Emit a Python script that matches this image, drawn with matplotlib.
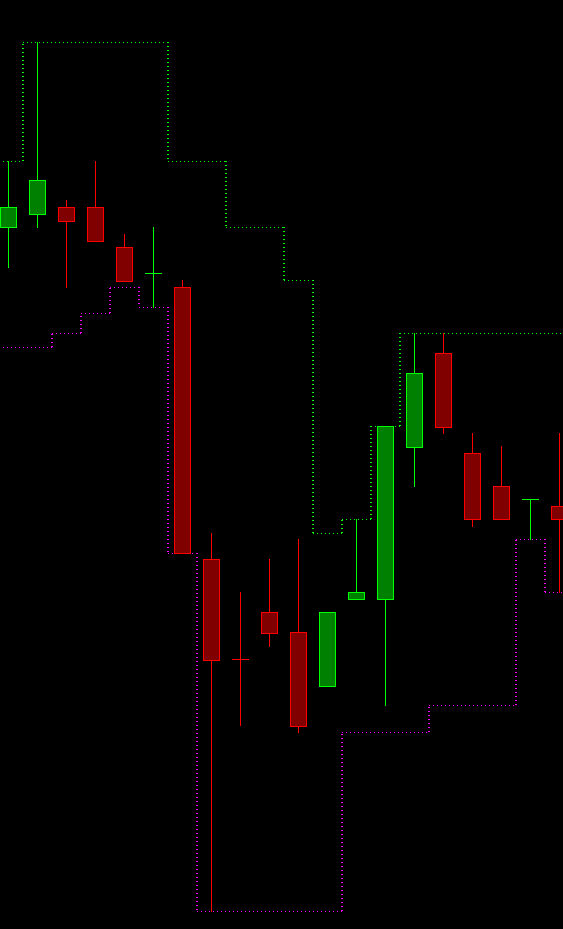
import matplotlib
matplotlib.use("Agg")
import matplotlib.pyplot as plt
import numpy as np

# candle prices (arbitrary price scale)
opens = [701.7, 714.7, 721.7, 721.7, 681.7, 655.7, 642.0, 369.7, 269.7, 316.7,
         296.7, 243.3, 329.7, 329.7, 482.3, 575.7, 475.7, 442.7, 429.7, 422.7]
highs = [768.0, 887.3, 729.0, 768.0, 695.0, 702.0, 649.0, 396.0, 337.0, 370.0,
         390.0, 316.7, 409.7, 502.7, 595.7, 595.7, 496.0, 483.0, 429.7, 496.0]
lows = [662.3, 702.3, 642.3, 688.3, 648.3, 621.7, 375.7, 18.3, 204.0, 283.3,
        197.3, 243.3, 329.7, 224.0, 443.3, 496.3, 403.3, 409.7, 390.0, 337.3]
closes = [721.7, 748.7, 708.3, 688.3, 648.3, 655.8, 375.7, 269.3, 269.6, 296.3,
          203.3, 316.7, 336.7, 502.7, 555.7, 502.3, 409.7, 409.7, 429.8, 409.7]

# channel levels, one per candle
upper = [768.0, 887.3, 887.3, 887.3, 887.3, 887.3, 768.0, 768.0, 702.0, 702.0,
         649.0, 396.0, 409.7, 502.7, 595.7, 595.7, 595.7, 595.7, 595.7, 595.7]
lower = [581.7, 581.7, 595.7, 615.7, 641.7, 621.7, 375.7, 18.0, 18.0, 18.0,
         18.0, 18.0, 196.7, 196.7, 196.7, 223.7, 223.7, 223.7, 389.7, 336.7]

x = np.arange(len(opens))
o = np.array(opens)
c = np.array(closes)
up = c >= o

fig = plt.figure(figsize=(5.63, 9.291), dpi=100, facecolor="black")
ax = fig.add_axes([0, 0, 1, 1])
ax.set_facecolor("black")
ax.axis("off")

px = 0.72  # one pixel in points


def channel(levels, color):
    levels = np.array(levels)
    # horizontal runs of equal level
    start = 0
    for i in range(1, len(levels) + 1):
        if i == len(levels) or levels[i] != levels[start]:
            ax.hlines(levels[start], start - 0.5, i - 0.5, colors=color, lw=px,
                      linestyles=(0, (1, 3)), antialiased=False, zorder=1)
            start = i
    # vertical connectors where the level changes (2px wide dots)
    ch = np.nonzero(np.diff(levels))[0]
    ax.vlines(ch + 0.5, levels[ch], levels[ch + 1], colors=color, lw=2 * px,
              linestyles=(0, (0.5, 1.5)), antialiased=False, zorder=1)


channel(upper, "#00ff00")
channel(lower, "#ff00ff")

wick_colors = np.where(up, "#00ff00", "#ff0000")
ax.vlines(x, lows, highs, colors=wick_colors, lw=px, antialiased=False, zorder=2)

ax.bar(x, c - o, bottom=o, width=0.56,
       color=np.where(up, "#008000", "#800000"),
       edgecolor=wick_colors, linewidth=px, antialiased=False, zorder=3)

ax.set_xlim(-8 / 29, 555 / 29)
ax.set_ylim(0, 929)

fig.savefig("out.png", dpi=100, facecolor="black")
